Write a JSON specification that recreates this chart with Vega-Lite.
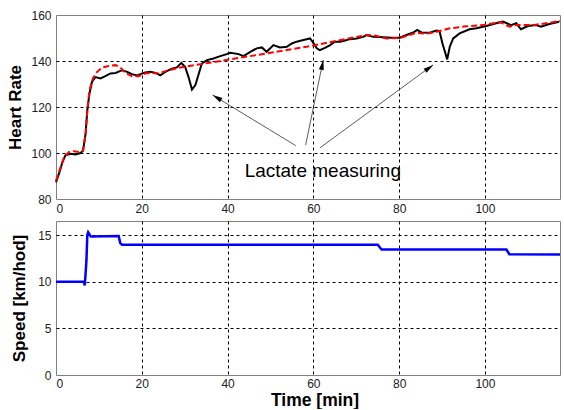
{
  "$schema": "https://vega.github.io/schema/vega-lite/v6.json",
  "padding": {"left": 6, "top": 8, "right": 0, "bottom": 0},
  "background": "white",
  "spacing": 22,
  "bounds": "flush",
  "config": {
    "view": {"stroke": "#808080", "strokeWidth": 1},
    "font": "Liberation Sans",
    "axis": {
      "domain": false, "ticks": false, "grid": true,
      "gridDash": [3, 3], "gridOpacity": 1, "gridWidth": 1,
      "labelFont": "Liberation Sans", "labelFontSize": 12, "labelColor": "#222222",
      "titleFont": "Liberation Sans", "titleFontWeight": "bold", "titleColor": "#000000"
    }
  },
  "vconcat": [
    {
      "width": 504,
      "height": 184,
      "encoding": {
        "x": {"field": "time", "type": "quantitative",
          "scale": {"domain": [0, 117.5], "nice": false, "zero": false},
          "axis": {"values": [0, 20, 40, 60, 80, 100], "title": null, "labelPadding": 4,
            "gridColor": {"condition": {"test": "datum.value == 0", "value": "transparent"}, "value": "#000000"}}},
        "y": {"field": "hr", "type": "quantitative",
          "scale": {"domain": [80, 160], "nice": false, "zero": false},
          "axis": {"values": [80, 100, 120, 140, 160], "title": "Heart Rate", "titleFontSize": 17,
            "titleX": -35.5, "titleY": 92, "titleAngle": -90, "titleBaseline": "alphabetic", "titleAlign": "center",
            "labelPadding": 5,
            "gridColor": {"condition": {"test": "datum.value == 80 || datum.value == 160", "value": "transparent"}, "value": "#000000"}}}
      },
      "layer": [
        {
          "data": {"values": [
            {"time": 0, "hr": 87.3}, {"time": 0.7, "hr": 91}, {"time": 1.5, "hr": 96}, {"time": 2.2, "hr": 99},
            {"time": 3.4, "hr": 99.7}, {"time": 4.6, "hr": 99.4}, {"time": 5.7, "hr": 100}, {"time": 6.3, "hr": 101},
            {"time": 6.9, "hr": 108.4}, {"time": 7.3, "hr": 118.6}, {"time": 7.8, "hr": 125.8}, {"time": 8.4, "hr": 131},
            {"time": 9.2, "hr": 133}, {"time": 10.4, "hr": 132.4}, {"time": 11.5, "hr": 133.4}, {"time": 12.7, "hr": 134.6},
            {"time": 13.9, "hr": 134.8}, {"time": 15.4, "hr": 136}, {"time": 16.6, "hr": 135.3}, {"time": 17.7, "hr": 134.3},
            {"time": 18.9, "hr": 133.7}, {"time": 19.7, "hr": 134.3}, {"time": 20.8, "hr": 135}, {"time": 22, "hr": 135.3},
            {"time": 23.2, "hr": 134.8}, {"time": 24.3, "hr": 133.8}, {"time": 25.5, "hr": 135.3}, {"time": 27, "hr": 136.7},
            {"time": 28.2, "hr": 137.2}, {"time": 29.2, "hr": 139.2}, {"time": 30.1, "hr": 137.5}, {"time": 30.9, "hr": 133},
            {"time": 31.7, "hr": 127.6}, {"time": 32.5, "hr": 129.5}, {"time": 33.3, "hr": 134.6}, {"time": 34, "hr": 138.9},
            {"time": 35.2, "hr": 140.4}, {"time": 36.7, "hr": 141.1}, {"time": 38.3, "hr": 142.1}, {"time": 39.8, "hr": 143},
            {"time": 40.6, "hr": 143.6}, {"time": 42.6, "hr": 143}, {"time": 43.7, "hr": 142.1}, {"time": 45.3, "hr": 144},
            {"time": 46.8, "hr": 145.5}, {"time": 48, "hr": 145.9}, {"time": 49.1, "hr": 144}, {"time": 50.7, "hr": 146.9},
            {"time": 52.2, "hr": 145.9}, {"time": 53.8, "hr": 146.2}, {"time": 55, "hr": 147.6}, {"time": 56.1, "hr": 148.4},
            {"time": 57.7, "hr": 149.1}, {"time": 59.2, "hr": 149.8}, {"time": 59.8, "hr": 148.4}, {"time": 60.8, "hr": 145.5},
            {"time": 61.5, "hr": 144.7}, {"time": 62.7, "hr": 145.7}, {"time": 63.9, "hr": 146.9}, {"time": 65, "hr": 148.4},
            {"time": 66.2, "hr": 148.4}, {"time": 67, "hr": 148.7}, {"time": 68.5, "hr": 149.5}, {"time": 70.1, "hr": 149.8},
            {"time": 71.6, "hr": 150.5}, {"time": 72.4, "hr": 151.3}, {"time": 74, "hr": 150.5}, {"time": 76.3, "hr": 150.3},
            {"time": 78.2, "hr": 150.1}, {"time": 80.1, "hr": 150.1}, {"time": 81.7, "hr": 151.3}, {"time": 83.3, "hr": 152.4},
            {"time": 84.2, "hr": 153.5}, {"time": 85.2, "hr": 152.4}, {"time": 87.1, "hr": 152.3}, {"time": 88.7, "hr": 153.2},
            {"time": 89.4, "hr": 153}, {"time": 90.1, "hr": 147.6}, {"time": 91.2, "hr": 140.7}, {"time": 91.8, "hr": 146.2},
            {"time": 92.6, "hr": 149.8}, {"time": 94.1, "hr": 152}, {"time": 96.4, "hr": 153.8}, {"time": 98, "hr": 154.2},
            {"time": 100.3, "hr": 155.2}, {"time": 102.6, "hr": 156.4}, {"time": 104.2, "hr": 157.1}, {"time": 106.1, "hr": 155.6},
            {"time": 107.3, "hr": 156.4}, {"time": 108.4, "hr": 153.8}, {"time": 110, "hr": 155.2}, {"time": 111.9, "hr": 155.6},
            {"time": 113.1, "hr": 154.9}, {"time": 115, "hr": 156.1}, {"time": 117.3, "hr": 157.1}
          ]},
          "mark": {"type": "line", "color": "#000000", "strokeWidth": 2}
        },
        {
          "data": {"values": [
            {"time": 0, "hr": 88}, {"time": 1.1, "hr": 93.9}, {"time": 1.9, "hr": 98.2}, {"time": 3, "hr": 100.4},
            {"time": 4.2, "hr": 100.8}, {"time": 5.3, "hr": 100.4}, {"time": 6.3, "hr": 101}, {"time": 6.9, "hr": 108},
            {"time": 7.3, "hr": 118.6}, {"time": 7.8, "hr": 127.3}, {"time": 8.6, "hr": 132.4}, {"time": 9.6, "hr": 135.3},
            {"time": 10.8, "hr": 137.2}, {"time": 12.3, "hr": 137.8}, {"time": 13.9, "hr": 138.2}, {"time": 15, "hr": 137.2},
            {"time": 16.2, "hr": 134.8}, {"time": 17.7, "hr": 133.4}, {"time": 19.3, "hr": 133.4}, {"time": 20.8, "hr": 134.6},
            {"time": 22.4, "hr": 134.8}, {"time": 24, "hr": 134.6}, {"time": 25.5, "hr": 135.6}, {"time": 27, "hr": 136.3},
            {"time": 29, "hr": 137.2}, {"time": 40, "hr": 140.5}, {"time": 50, "hr": 143.6}, {"time": 58.4, "hr": 146.2},
            {"time": 65, "hr": 148.6}, {"time": 72.4, "hr": 151.3}, {"time": 74.5, "hr": 151}, {"time": 77, "hr": 149.8},
            {"time": 80.1, "hr": 150}, {"time": 84, "hr": 152.2}, {"time": 86.4, "hr": 151.9}, {"time": 88.7, "hr": 152.7},
            {"time": 91.8, "hr": 154.2}, {"time": 95.7, "hr": 155.1}, {"time": 99.5, "hr": 155.6}, {"time": 102.6, "hr": 156.6},
            {"time": 103.6, "hr": 156.9}, {"time": 105.7, "hr": 154.9}, {"time": 107.3, "hr": 155.6}, {"time": 111.2, "hr": 155.6},
            {"time": 115, "hr": 156.6}, {"time": 117.5, "hr": 157.4}
          ]},
          "mark": {"type": "line", "color": "#ff0000", "strokeWidth": 2, "strokeDash": [6, 3]}
        },
        {
          "data": {"values": [
            {"time": 55.9, "hr": 103.2, "time2": 36.5, "hr2": 125.2},
            {"time": 58.2, "hr": 103.5, "time2": 62.3, "hr2": 140.4},
            {"time": 61.5, "hr": 102.2, "time2": 87.9, "hr2": 138.3}
          ]},
          "mark": {"type": "rule", "color": "#333333", "strokeWidth": 0.8},
          "encoding": {"x2": {"field": "time2"}, "y2": {"field": "hr2"}}
        },
        {
          "data": {"values": [{"time": 37.5, "hr": 124.1}]},
          "mark": {"type": "point", "shape": "M0,-1L0.5,1L-0.5,1Z", "filled": true, "color": "#000000", "opacity": 1, "size": 100, "angle": 301}
        },
        {
          "data": {"values": [{"time": 62.1, "hr": 138.3}]},
          "mark": {"type": "point", "shape": "M0,-1L0.5,1L-0.5,1Z", "filled": true, "color": "#000000", "opacity": 1, "size": 100, "angle": 12}
        },
        {
          "data": {"values": [{"time": 87.0, "hr": 137.0}]},
          "mark": {"type": "point", "shape": "M0,-1L0.5,1L-0.5,1Z", "filled": true, "color": "#000000", "opacity": 1, "size": 100, "angle": 54}
        },
        {
          "data": {"values": [{"time": 62.2, "hr": 89.7, "label": "Lactate measuring"}]},
          "mark": {"type": "text", "fontSize": 19, "align": "center", "baseline": "alphabetic", "font": "Liberation Sans", "color": "#000000"},
          "encoding": {"text": {"field": "label"}}
        }
      ]
    },
    {
      "width": 504,
      "height": 154,
      "data": {"values": [
        {"time": 0, "speed": 10}, {"time": 6.5, "speed": 10}, {"time": 6.7, "speed": 9.6}, {"time": 6.9, "speed": 10.9},
        {"time": 7.1, "speed": 12.3}, {"time": 7.3, "speed": 15.0}, {"time": 7.5, "speed": 15.3}, {"time": 8.1, "speed": 14.85},
        {"time": 14.6, "speed": 14.9}, {"time": 15.0, "speed": 14.1}, {"time": 15.4, "speed": 13.95}, {"time": 75.0, "speed": 13.95},
        {"time": 75.9, "speed": 13.45}, {"time": 105.0, "speed": 13.45}, {"time": 105.7, "speed": 12.95}, {"time": 117.5, "speed": 12.9}
      ]},
      "mark": {"type": "line", "color": "#0000ff", "strokeWidth": 2.5},
      "encoding": {
        "x": {"field": "time", "type": "quantitative",
          "scale": {"domain": [0, 117.5], "nice": false, "zero": false},
          "axis": {"values": [0, 20, 40, 60, 80, 100], "title": "Time [min]", "titleFontSize": 17.5,
            "titleX": 258.5, "titleY": 30, "titleBaseline": "alphabetic", "titleAlign": "center", "labelPadding": 3,
            "gridColor": {"condition": {"test": "datum.value == 0", "value": "transparent"}, "value": "#000000"}}},
        "y": {"field": "speed", "type": "quantitative",
          "scale": {"domain": [0, 16.5], "nice": false, "zero": false},
          "axis": {"values": [0, 5, 10, 15], "title": "Speed [km/hod]", "titleFontSize": 17,
            "titleX": -32, "titleY": 77, "titleAngle": -90, "titleBaseline": "alphabetic", "titleAlign": "center",
            "labelPadding": 5,
            "gridColor": {"condition": {"test": "datum.value == 0", "value": "transparent"}, "value": "#000000"}}}
      }
    }
  ]
}
